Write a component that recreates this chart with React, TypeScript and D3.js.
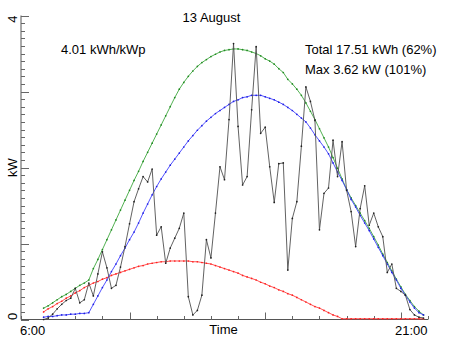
import React from "react";
import * as d3 from "d3";

// 10-minute samples from 6:50 to 20:50
const firstSlot = 5; // slots of 10 min after 6:00
const measured = [
  0.00, 0.02, 0.07, 0.14, 0.20, 0.25, 0.28, 0.41, 0.22, 0.26,
  0.48, 0.31, 0.60, 0.89, 0.68, 0.41, 0.45, 0.69, 0.96, 1.26,
  1.55, 1.72, 1.88, 1.81, 1.98, 1.11, 1.22, 0.74, 0.94, 1.07,
  1.20, 1.40, 0.30, 0.06, 0.12, 0.32, 1.05, 0.81, 1.40, 2.01,
  1.84, 2.63, 3.63, 2.54, 1.77, 1.88, 2.76, 3.59, 2.45, 2.53,
  2.01, 1.54, 2.05, 2.06, 0.65, 1.33, 1.55, 2.28, 3.06, 2.87,
  2.62, 1.18, 1.66, 1.73, 2.36, 1.88, 2.34, 1.70, 1.42, 0.96,
  1.46, 1.76, 1.24, 1.40, 1.22, 1.09, 0.62, 0.73, 0.41, 0.37,
  0.32, 0.13, 0.06, 0.03, 0.02,
];
const clearSky = [
  0.15, 0.18, 0.22, 0.26, 0.30, 0.33, 0.37, 0.41, 0.45, 0.48,
  0.52, 0.67, 0.79, 0.92, 1.05, 1.18, 1.31, 1.44, 1.57, 1.70,
  1.83, 1.95, 2.08, 2.20, 2.32, 2.44, 2.56, 2.68, 2.80, 2.92,
  3.03, 3.12, 3.20, 3.27, 3.33, 3.38, 3.42, 3.46, 3.49, 3.52,
  3.54, 3.55, 3.56, 3.56, 3.55, 3.54, 3.52, 3.50, 3.47, 3.43,
  3.40, 3.36, 3.30, 3.25, 3.16, 3.10, 3.03, 2.95, 2.85, 2.74,
  2.63, 2.51, 2.39, 2.27, 2.13, 1.99, 1.85, 1.71, 1.60, 1.50,
  1.40, 1.30, 1.20, 1.09, 0.98, 0.86, 0.75, 0.64, 0.53, 0.43,
  0.33, 0.25, 0.17, 0.11, 0.06,
];
const expected = [
  0.03, 0.04, 0.04, 0.05, 0.06, 0.06, 0.07, 0.07, 0.08, 0.08,
  0.09, 0.20, 0.31, 0.42, 0.52, 0.63, 0.73, 0.84, 0.94, 1.05,
  1.15, 1.27, 1.40, 1.52, 1.64, 1.75, 1.85, 1.94, 2.03, 2.11,
  2.19, 2.27, 2.35, 2.42, 2.49, 2.55, 2.61, 2.66, 2.71, 2.75,
  2.79, 2.83, 2.87, 2.89, 2.92, 2.93, 2.95, 2.95, 2.95, 2.93,
  2.91, 2.89, 2.86, 2.83, 2.79, 2.75, 2.70, 2.65, 2.60, 2.52,
  2.43, 2.35, 2.27, 2.18, 2.06, 1.94, 1.83, 1.71, 1.58, 1.48,
  1.37, 1.27, 1.17, 1.06, 0.95, 0.84, 0.73, 0.62, 0.52, 0.41,
  0.32, 0.23, 0.15, 0.09, 0.06,
];
const diffuse = [
  0.10, 0.14, 0.17, 0.21, 0.24, 0.28, 0.31, 0.35, 0.38, 0.42,
  0.45, 0.48, 0.50, 0.53, 0.55, 0.58, 0.60, 0.62, 0.64, 0.66,
  0.68, 0.70, 0.71, 0.73, 0.74, 0.75, 0.76, 0.76, 0.77, 0.77,
  0.77, 0.77, 0.77, 0.76, 0.76, 0.75, 0.74, 0.73, 0.71, 0.69,
  0.67, 0.65, 0.63, 0.61, 0.58, 0.56, 0.54, 0.52, 0.49, 0.47,
  0.44, 0.42, 0.39, 0.37, 0.34, 0.32, 0.29, 0.26, 0.23, 0.20,
  0.17, 0.15, 0.12, 0.09, 0.06, 0.04, 0.01, 0.01, 0.01, 0.01,
  0.01, 0.01, 0.01, 0.01, 0.01, 0.01, 0.01, 0.01, 0.01, 0.01,
  0.01, 0.01, 0.01, 0.01, 0.01,
];

const title = "13 August";
const yieldLabel = "4.01 kWh/kWp";
const totalLabel = "Total 17.51 kWh (62%)";
const maxLabel = "Max 3.62 kW (101%)";
const xTickLabels = ["6:00", "21:00"];
const yTickLabels = ["0", "4"];

const W = 452;
const H = 339;
const FONT = "'Liberation Sans', Arial, sans-serif";

export default function App() {
  const x = d3.scaleLinear().domain([6, 21]).range([21, 428]);
  const y = d3.scaleLinear().domain([0, 4]).range([319.5, 15.5]);
  const t = (i: number) => 6 + (firstSlot + i) / 6;

  const line = d3
    .line<number>()
    .x((_, i) => x(t(i)))
    .y((d) => y(d));

  const series = [
    { data: diffuse, color: "#ff4040", dot: "#ff2020" },
    { data: clearSky, color: "#40a840", dot: "#208a20" },
    { data: expected, color: "#4040ff", dot: "#2020e0" },
    { data: measured, color: "#505050", dot: "#202020" },
  ];

  const minorY = d3.range(0, 41).map((k) => k / 10);
  const hours = d3.range(6, 22);

  return (
    <svg
      width={W}
      height={H}
      style={{ position: "absolute", left: 0, top: 0, background: "#fff" }}
      fontFamily={FONT}
    >
      <rect x={0} y={0} width={W} height={H} fill="#fff" />
      {/* y axis */}
      <line x1={21} x2={21} y1={y(4)} y2={y(0)} stroke="#555" strokeWidth={1} />
      {minorY.map((v) => {
        const major = Math.abs(v - Math.round(v)) < 1e-6;
        return (
          <line
            key={"yt" + v}
            x1={21}
            x2={21 + (major ? 8 : 4)}
            y1={Math.round(y(v)) + 0.5}
            y2={Math.round(y(v)) + 0.5}
            stroke="#666"
            strokeWidth={1}
          />
        );
      })}
      {/* x axis */}
      <line x1={21} x2={428} y1={y(0)} y2={y(0)} stroke="#555" strokeWidth={1} />
      {hours.map((h) => (
        <line
          key={"xt" + h}
          x1={Math.round(x(h)) + 0.5}
          x2={Math.round(x(h)) + 0.5}
          y1={y(0)}
          y2={y(0) - (h % 5 === 0 ? 7 : 3.5)}
          stroke="#666"
          strokeWidth={1}
        />
      ))}

      {/* series */}
      {series.map((s, k) => (
        <g key={"s" + k}>
          <path d={line(s.data) || ""} fill="none" stroke={s.color} strokeWidth={0.9} />
          {s.data.map((v, i) => (
            <circle key={i} cx={x(t(i))} cy={y(v)} r={0.85} fill={s.dot} />
          ))}
        </g>
      ))}

      {/* labels */}
      <g fontSize={13} fill="#000">
        <text x={211.5} y={22} textAnchor="middle">{title}</text>
        <text x={61} y={53.5}>{yieldLabel}</text>
        <text x={305} y={53.5}>{totalLabel}</text>
        <text x={305} y={73.5}>{maxLabel}</text>
        <text x={20} y={334.5}>{xTickLabels[0]}</text>
        <text x={223.5} y={333.5} textAnchor="middle">Time</text>
        <text x={427.5} y={334.5} textAnchor="end">{xTickLabels[1]}</text>
        <text transform={`translate(16.5, ${y(0) + 0.5}) rotate(-90)`} textAnchor="start">
          {yTickLabels[0]}
        </text>
        <text transform={`translate(16.5, ${y(4)}) rotate(-90)`} textAnchor="end">
          {yTickLabels[1]}
        </text>
        <text transform={`translate(17, ${y(2)}) rotate(-90)`} textAnchor="middle">kW</text>
      </g>
    </svg>
  );
}
